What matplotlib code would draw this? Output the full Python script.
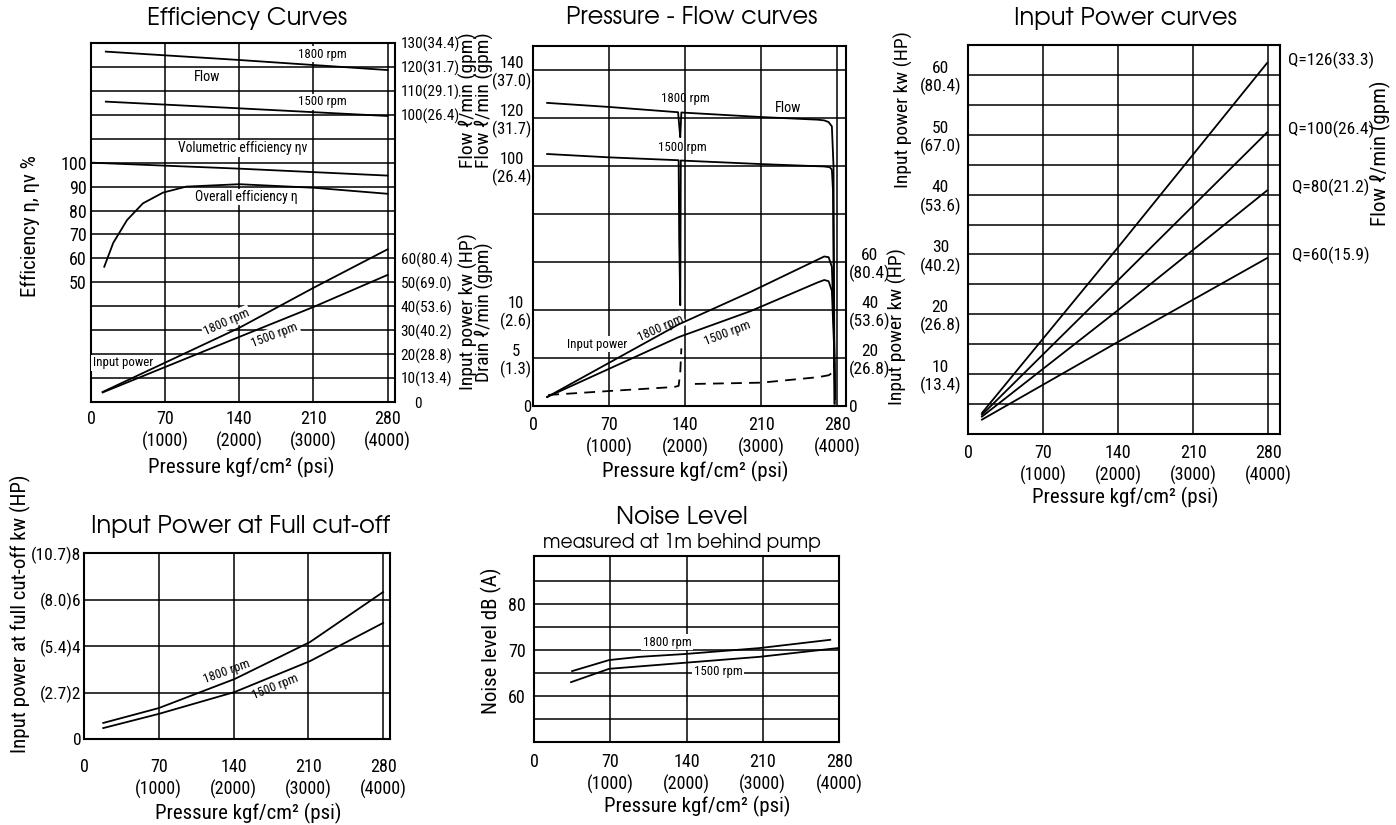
import matplotlib
matplotlib.use("Agg")
import matplotlib.pyplot as plt
import numpy as np

W, H = 1396, 825
NARROW = ['Roboto Condensed', 'DejaVu Sans']
WIDE = ['TeX Gyre Adventor', 'DejaVu Sans']
plt.rcParams['font.family'] = NARROW

# ---------------- data ----------------
pressure_ticks = [0, 70, 140, 210, 280]
pressure_labels = ["0", "70\n(1000)", "140\n(2000)", "210\n(3000)", "280\n(4000)"]

# Efficiency Curves
eff_p = [12.5, 21, 34, 49, 68, 90, 140, 211, 280]
eff_overall = [56.5, 66.5, 76, 83, 87.5, 90, 91, 89.5, 87]
vol_p = [0, 140, 280]
vol_eff = [100, 97.5, 94.6]
eflow_p = [14, 140, 280]
eflow_1800 = [126.4, 122.9, 118.7]
eflow_1500 = [105.5, 102.7, 99.5]
epow_p = [11, 140, 210, 280]
epow_1800 = [4.2, 31.0, 47.7, 63.8]
epow_1500 = [4.0, 27.2, 39.7, 53.1]

# Pressure - Flow curves
pf_p_1800 = [13, 70, 133.5, 134.5, 135.5, 136.5, 140, 210, 262, 268, 272, 275, 276.5, 277.5]
pf_flow_1800 = [126.3, 124.6, 122.4, 117, 112, 122.3, 122.2, 120.4, 119.3, 119, 118.3, 116.5, 100, 1]
pf_p_1500 = [13, 70, 134, 134.5, 135.5, 136, 140, 210, 268, 273, 275, 276, 277.5]
pf_flow_1500 = [105, 103.6, 102.4, 70, 42, 102.3, 102.2, 100.8, 99.8, 99.5, 98.5, 90, 1]
pf_pow_p = [13, 134, 200, 262, 268, 272, 275, 277, 278]
pf_pow_1800 = [3.75, 34.0, 47.5, 61, 62.3, 62, 58, 30, 3]
pf_pow_1500 = [3.75, 28.7, 39.5, 51.5, 52.5, 52, 48, 25, 3]
drain_p = [14, 70, 130, 134, 135.5, 136.5, np.nan, 149, 210, 262, 272, 276, 277.5]
drain = [1.15, 1.56, 1.98, 2.1, 3.5, 6.0, np.nan, 2.3, 2.43, 3.0, 3.2, 3.5, 4.5]

# Input Power curves
q_p = [13, 140, 279]
q126 = [3.5, 31.2, 62.0]
q100 = [3.2, 25.7, 50.4]
q80 = [2.9, 20.7, 40.7]
q60 = [2.4, 15.4, 29.4]
q_labels = ["Q=126(33.3)", "Q=100(26.4)", "Q=80(21.2)", "Q=60(15.9)"]

# Input Power at Full cut-off
cut_p = [18, 70, 141, 211.6, 280]
cut_1800 = [0.69, 1.33, 2.58, 4.17, 6.32]
cut_1500 = [0.47, 1.08, 2.02, 3.35, 4.99]

# Noise level
noise_p_1800 = [35, 69, 97, 138, 207, 272]
noise_1800 = [65.4, 67.8, 68.5, 69.1, 70.4, 72.2]
noise_p_1500 = [34, 69, 138, 207, 279]
noise_1500 = [63.0, 65.9, 67.2, 68.5, 70.4]

XTICK = 13
YTICK = 11
SMALL = 9.3
LAB = 15
LAB_TIGHT = 14
TITLE = 17.5
LW = 1.3
WHITE = dict(fc='white', ec='none', pad=1)

fig = plt.figure(figsize=(W / 100, H / 100), dpi=100)


def px_box(l, t, r, b):
    return [l / W, 1 - b / H, (r - l) / W, (b - t) / H]


def ftext(x, y, s, **kw):
    kw.setdefault('ha', 'center')
    kw.setdefault('va', 'center')
    fig.text(x / W, 1 - y / H, s, **kw)


def frame(ax, xmax, ylim, hgrid, vgrid, xpad):
    ax.set_xlim(0, xmax)
    ax.set_ylim(*ylim)
    for sp in ax.spines.values():
        sp.set_linewidth(1.5)
    for y in hgrid:
        ax.axhline(y, color='black', lw=1.1, zorder=1)
    for x in vgrid:
        ax.axvline(x, color='black', lw=1.1, zorder=1)
    ax.set_xticks(pressure_ticks, pressure_labels)
    ax.tick_params(axis='both', length=0)
    ax.tick_params(axis='x', pad=xpad, labelsize=XTICK)
    ax.tick_params(axis='y', labelsize=YTICK)
    for lab in ax.get_xticklabels():
        lab.set_linespacing(1.25)


def twin(ax, ylim, side):
    t = ax.twinx()
    t.set_ylim(*ylim)
    for sp in t.spines.values():
        sp.set_visible(False)
    t.tick_params(length=0, labelsize=YTICK)
    if side == 'left':
        t.yaxis.tick_left()
    return t


def center_lines(ax):
    for lab in ax.get_yticklabels():
        lab.set_multialignment('center')
        lab.set_linespacing(1.15)


# ---------------- Efficiency Curves ----------------
ax1 = fig.add_axes(px_box(91, 43, 395, 402))
frame(ax1, 287, (0, 150), range(10, 150, 10), [70, 140, 210, 280], xpad=6)
ax1.set_yticks([50, 60, 70, 80, 90, 100])
ax1.tick_params(axis='y', pad=3, labelsize=13)
ax1.plot(eff_p, eff_overall, color='black', lw=LW)
ax1.plot(vol_p, vol_eff, color='black', lw=LW)
f1 = twin(ax1, (-20, 130), 'right')
f1.set_yticks([100, 110, 120, 130], ["100(26.4)", "110(29.1)", "120(31.7)", "130(34.4)"])
f1.tick_params(axis='y', pad=4)
f1.plot(eflow_p, eflow_1800, color='black', lw=LW)
f1.plot(eflow_p, eflow_1500, color='black', lw=LW)
p1 = twin(ax1, (0, 150), 'right')
p1.set_yticks([0, 10, 20, 30, 40, 50, 60],
              ["    0", "10(13.4)", "20(28.8)", "30(40.2)", "40(53.6)", "50(69.0)", "60(80.4)"])
p1.tick_params(axis='y', pad=4)
p1.plot(epow_p, epow_1800, color='black', lw=LW)
p1.plot(epow_p, epow_1500, color='black', lw=LW)
ax1.text(218, 145.4, "1800 rpm", fontsize=SMALL, ha='center', va='center', bbox=WHITE)
ax1.text(110, 135.8, "Flow", fontsize=SMALL + 1, ha='center', va='center', bbox=WHITE)
ax1.text(218, 125.4, "1500 rpm", fontsize=SMALL, ha='center', va='center', bbox=WHITE)
ax1.text(143, 106, "Volumetric efficiency ηv", fontsize=SMALL + 0.5, ha='center', va='center', bbox=WHITE)
ax1.text(147, 85.7, "Overall efficiency η", fontsize=SMALL + 0.5, ha='center', va='center', bbox=WHITE)
ax1.text(128, 33.4, "1800 rpm", fontsize=SMALL, ha='center', va='center', rotation=24, bbox=WHITE)
ax1.text(173.6, 28, "1500 rpm", fontsize=SMALL, ha='center', va='center', rotation=21, bbox=WHITE)
ax1.text(30, 16.3, "Input power", fontsize=SMALL, ha='center', va='center', bbox=WHITE)

# ---------------- Pressure - Flow curves ----------------
ax2 = fig.add_axes(px_box(533, 46, 846, 406))
frame(ax2, 288, (0, 150), range(20, 150, 20), [70, 140, 210, 280], xpad=7)
ax2.set_yticks([100, 120, 140], ["100\n(26.4)", "120\n(31.7)", "140\n(37.0)"])
ax2.tick_params(axis='y', pad=1, labelsize=12)
center_lines(ax2)
ax2.plot(pf_p_1800, pf_flow_1800, color='black', lw=LW)
ax2.plot(pf_p_1500, pf_flow_1500, color='black', lw=LW)
d2 = twin(ax2, (0, 37.5), 'left')
d2.set_yticks([0, 5, 10], ["0", "5\n(1.3)", "10\n(2.6)"])
d2.tick_params(axis='y', pad=1, labelsize=12)
center_lines(d2)
d2.plot(drain_p, drain, color='black', lw=LW, ls='--', dashes=(6, 4))
p2 = twin(ax2, (0, 150), 'right')
p2.set_yticks([0, 20, 40, 60], ["0", "20\n(26.8)", "40\n(53.6)", "60\n(80.4)"])
p2.tick_params(axis='y', pad=2, labelsize=12.5)
center_lines(p2)
p2.plot(pf_pow_p, pf_pow_1800, color='black', lw=LW)
p2.plot(pf_pow_p, pf_pow_1500, color='black', lw=LW)
ax2.text(140, 128.3, "1800 rpm", fontsize=SMALL, ha='center', va='center')
ax2.text(137, 107.5, "1500 rpm", fontsize=SMALL, ha='center', va='center')
ax2.text(235, 124, "Flow", fontsize=SMALL + 1, ha='center', va='center')
ax2.text(59, 25.8, "Input power", fontsize=SMALL, ha='center', va='center', bbox=WHITE)
ax2.text(117, 32.5, "1800 rpm", fontsize=SMALL, ha='center', va='center', rotation=24, bbox=WHITE)
ax2.text(178.6, 30.4, "1500 rpm", fontsize=SMALL, ha='center', va='center', rotation=21, bbox=WHITE)

# ---------------- Input Power curves ----------------
ax3 = fig.add_axes(px_box(968, 45, 1280, 434))
frame(ax3, 291, (0, 65), range(5, 65, 5), [70, 140, 210, 280], xpad=7)
ax3.set_yticks([10, 20, 30, 40, 50, 60],
               ["10\n(13.4)", "20\n(26.8)", "30\n(40.2)", "40\n(53.6)", "50\n(67.0)", "60\n(80.4)"])
ax3.tick_params(axis='y', pad=5, labelsize=12.5)
center_lines(ax3)
for q in (q126, q100, q80, q60):
    ax3.plot(q_p, q, color='black', lw=LW)
for lab, q, dx in zip(q_labels, (q126, q100, q80, q60), (0, 0, 4.5, 4.5)):
    ax3.text(298 + dx, q[-1] + 0.5, lab, fontsize=12.5, ha='left', va='center')

# ---------------- Input Power at Full cut-off ----------------
ax4 = fig.add_axes(px_box(84, 553, 390, 739))
frame(ax4, 286.5, (0, 8), [2, 4, 6], [70, 140, 210, 280], xpad=14)
ax4.set_yticks([0, 2, 4, 6, 8], ["0", "(2.7)2", "(5.4)4", "(8.0)6", "(10.7)8"])
ax4.tick_params(axis='y', pad=2, labelsize=12.5)
ax4.plot(cut_p, cut_1800, color='black', lw=LW)
ax4.plot(cut_p, cut_1500, color='black', lw=LW)
ax4.text(134, 2.88, "1800 rpm", fontsize=SMALL, ha='center', va='center', rotation=20)
ax4.text(179, 2.24, "1500 rpm", fontsize=SMALL, ha='center', va='center', rotation=22)

# ---------------- Noise Level ----------------
ax5 = fig.add_axes(px_box(534, 556, 839, 742))
frame(ax5, 280, (50, 90.4), range(55, 90, 5), [70, 140, 210], xpad=8)
ax5.set_yticks([60, 70, 80])
ax5.tick_params(axis='y', pad=6, labelsize=13)
ax5.plot(noise_p_1800, noise_1800, color='black', lw=LW)
ax5.plot(noise_p_1500, noise_1500, color='black', lw=LW)
ax5.text(122, 71.7, "1800 rpm", fontsize=SMALL, ha='center', va='center', bbox=WHITE)
ax5.text(169, 65.4, "1500 rpm", fontsize=SMALL, ha='center', va='center', bbox=WHITE)

# ---------------- titles and axis labels ----------------
ftext(247, 18, "Efficiency Curves", family=WIDE, size=TITLE)
ftext(692, 18, "Pressure - Flow curves", family=WIDE, size=TITLE)
ftext(1125, 18, "Input Power curves", family=WIDE, size=TITLE)
ftext(241, 527, "Input Power at Full cut-off", family=WIDE, size=TITLE)
ftext(682, 518, "Noise Level", family=WIDE, size=TITLE)
ftext(682, 542, "measured at 1m behind pump", family=WIDE, size=13.5)

for x, y in [(241, 467), (695, 471), (1125, 497), (248, 813), (697, 806)]:
    ftext(x, y, "Pressure kgf/cm² (psi)", size=LAB)

ftext(30, 226, "Efficiency η, ηv %", rotation=90, size=LAB)
ftext(468, 100, "Flow ℓ/min (gpm)", rotation=90, size=LAB_TIGHT)
ftext(468, 312, "Input power kw (HP)", rotation=90, size=LAB_TIGHT)
ftext(484, 100, "Flow ℓ/min (gpm)", rotation=90, size=LAB_TIGHT)
ftext(484, 312, "Drain ℓ/min (gpm)", rotation=90, size=LAB_TIGHT)
ftext(897, 327, "Input power kw (HP)", rotation=90, size=LAB_TIGHT)
ftext(903, 110, "Input power kw (HP)", rotation=90, size=LAB_TIGHT)
ftext(1380, 153, "Flow ℓ/min (gpm)", rotation=90, size=LAB)
ftext(20, 614, "Input power at full cut-off kw (HP)", rotation=90, size=LAB)
ftext(491, 641, "Noise level dB (A)", rotation=90, size=LAB)

fig.savefig("out.png", dpi=100)
